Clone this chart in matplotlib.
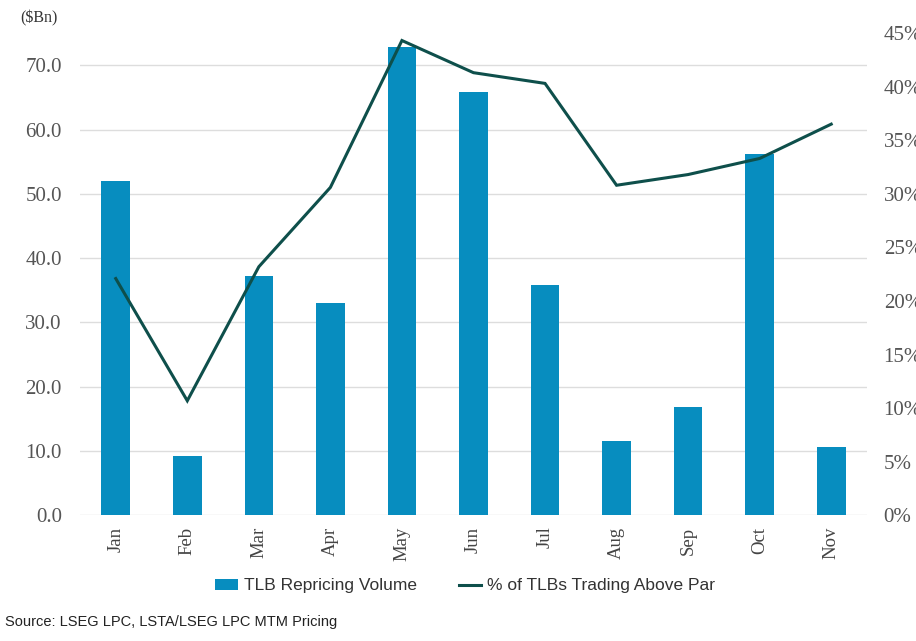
import matplotlib
matplotlib.use('Agg')
import matplotlib.pyplot as plt
from matplotlib.ticker import FuncFormatter

months = ['Jan', 'Feb', 'Mar', 'Apr', 'May', 'Jun', 'Jul', 'Aug', 'Sep', 'Oct', 'Nov']
volume = [52.0, 9.3, 37.2, 33.0, 72.8, 65.9, 35.8, 11.6, 16.8, 56.2, 10.7]
above_par = [22.1, 10.7, 23.2, 30.6, 44.3, 41.3, 40.3, 30.8, 31.8, 33.3, 36.5]
left_ticks = [0, 10, 20, 30, 40, 50, 60, 70]
right_ticks = [0, 5, 10, 15, 20, 25, 30, 35, 40, 45]

bar_color = '#078dbf'
line_color = '#0e4f4b'
serif = ['Liberation Serif', 'DejaVu Serif']
narrow = ['Liberation Sans Narrow', 'Liberation Sans', 'DejaVu Sans']

fig = plt.figure(figsize=(9.16, 6.41), dpi=100)
ax = fig.add_axes([0.0873, 0.1958, 0.8592, 0.7527])
ax2 = ax.twinx()

x = range(len(months))
ax.bar(x, volume, width=0.4, color=bar_color, label='TLB Repricing Volume', zorder=2)
ax2.plot(x, above_par, color=line_color, lw=2.2, label='% of TLBs Trading Above Par',
         solid_joinstyle='miter')

ax.set_xlim(-0.5, len(months) - 0.5)
ax.set_ylim(0, 75)
ax2.set_ylim(0, 45)
ax.set_yticks(left_ticks)
ax2.set_yticks(right_ticks)
ax.yaxis.set_major_formatter(FuncFormatter(lambda v, p: '{0:.1f}'.format(v)))
ax2.yaxis.set_major_formatter(FuncFormatter(lambda v, p: '{0:.0f}%'.format(v)))
ax.set_xticks(list(x))
ax.set_xticklabels(months, rotation=90, fontfamily=serif, fontsize=13.5, color='#444444')

ax.grid(axis='y', color='#dddddd', lw=1, zorder=0)
ax.set_axisbelow(True)
for a in (ax, ax2):
    for s in a.spines.values():
        s.set_visible(False)
ax.tick_params(axis='both', length=0)
ax2.tick_params(axis='y', length=0, pad=12)
ax.tick_params(axis='y', pad=13)
ax.tick_params(axis='x', pad=8)
for lab in ax.get_yticklabels() + ax2.get_yticklabels():
    lab.set_fontfamily(serif)
    lab.set_fontsize(15)
    lab.set_color('#555555')

fig.text(0.022, 0.972, '($Bn)', fontfamily=serif, fontsize=11.5, color='#333333',
         va='center', ha='left')

h1, l1 = ax.get_legend_handles_labels()
h2, l2 = ax2.get_legend_handles_labels()
fig.legend(h1 + h2, l1 + l2, loc='center', bbox_to_anchor=(0.508, 0.086), ncol=2,
           frameon=False, prop={'family': narrow, 'size': 12.5}, handlelength=1.3,
           handleheight=0.6, handletextpad=0.35, columnspacing=2.4,
           labelcolor='#333333')

fig.text(0.005, 0.029, 'Source: LSEG LPC, LSTA/LSEG LPC MTM Pricing', fontfamily=narrow,
         fontsize=10.5, color='#222222', va='center', ha='left')

fig.savefig('out.png', dpi=100)
